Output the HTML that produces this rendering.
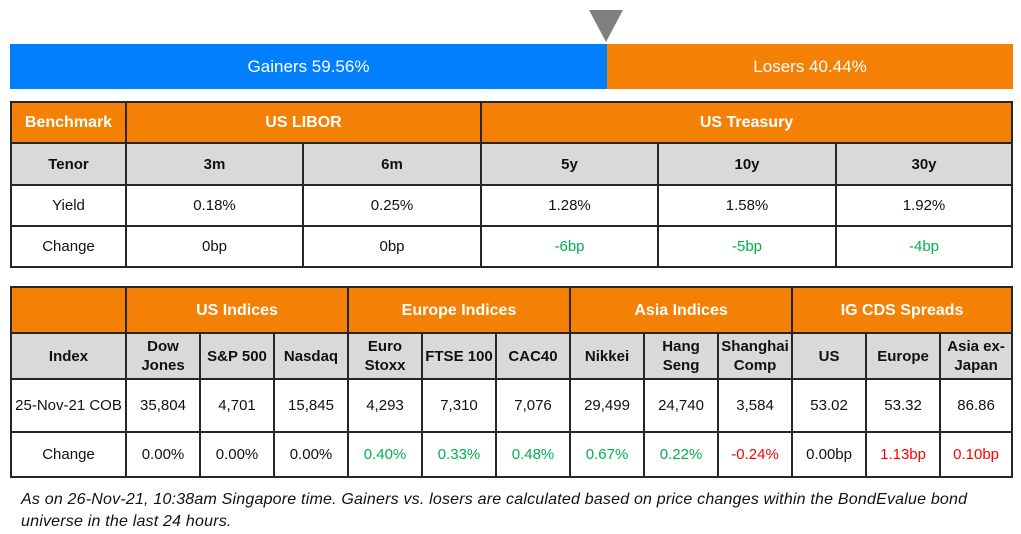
<!DOCTYPE html>
<html><head><meta charset="utf-8"><style>
body{margin:0;width:1021px;height:534px;background:#fff;position:relative;font-family:"Liberation Sans",sans-serif;overflow:hidden}
.abs{position:absolute}
table{position:absolute;border-collapse:collapse;table-layout:fixed}
td{border:2px solid #262626;text-align:center;padding:0;font-size:15px;color:#111;line-height:19px}
.o{background:#F58006;color:#fff;font-weight:bold;font-size:16px}
.g{background:#D9D9D9;font-weight:bold}
.gr{color:#00B050}.rd{color:#FF0000}
</style></head><body>
<div class="abs" style="left:589px;top:10px;width:0;height:0;border-left:17.5px solid transparent;border-right:17.5px solid transparent;border-top:32px solid #808080"></div>
<div class="abs" style="left:10px;top:44px;width:597px;height:45px;background:#0080FF;color:#fff;font-size:17px;line-height:45px;text-align:center">Gainers 59.56%</div>
<div class="abs" style="left:607px;top:44px;width:406px;height:45px;background:#F58006;color:#fff;font-size:17px;line-height:45px;text-align:center">Losers 40.44%</div>

<table style="left:10px;top:101px;width:1001px">
<colgroup><col style="width:115px"><col style="width:177px"><col style="width:178px"><col style="width:177px"><col style="width:178px"><col style="width:176px"></colgroup>
<tr style="height:41px"><td class="o">Benchmark</td><td class="o" colspan="2">US LIBOR</td><td class="o" colspan="3">US Treasury</td></tr>
<tr style="height:42px"><td class="g">Tenor</td><td class="g">3m</td><td class="g">6m</td><td class="g">5y</td><td class="g">10y</td><td class="g">30y</td></tr>
<tr style="height:41px"><td>Yield</td><td>0.18%</td><td>0.25%</td><td>1.28%</td><td>1.58%</td><td>1.92%</td></tr>
<tr style="height:41px"><td>Change</td><td>0bp</td><td>0bp</td><td class="gr">-6bp</td><td class="gr">-5bp</td><td class="gr">-4bp</td></tr>
</table>

<table style="left:10px;top:286px;width:1001px">
<colgroup><col style="width:115px"><col span="11" style="width:74px"><col style="width:72px"></colgroup>
<tr style="height:46px"><td class="o"></td><td class="o" colspan="3">US Indices</td><td class="o" colspan="3">Europe Indices</td><td class="o" colspan="3">Asia Indices</td><td class="o" colspan="3">IG CDS Spreads</td></tr>
<tr style="height:46px"><td class="g">Index</td><td class="g">Dow<br>Jones</td><td class="g">S&amp;P 500</td><td class="g">Nasdaq</td><td class="g">Euro<br>Stoxx</td><td class="g">FTSE 100</td><td class="g">CAC40</td><td class="g">Nikkei</td><td class="g">Hang<br>Seng</td><td class="g">Shanghai<br>Comp</td><td class="g">US</td><td class="g">Europe</td><td class="g">Asia ex-<br>Japan</td></tr>
<tr style="height:53px"><td>25-Nov-21 COB</td><td>35,804</td><td>4,701</td><td>15,845</td><td>4,293</td><td>7,310</td><td>7,076</td><td>29,499</td><td>24,740</td><td>3,584</td><td>53.02</td><td>53.32</td><td>86.86</td></tr>
<tr style="height:45px"><td>Change</td><td>0.00%</td><td>0.00%</td><td>0.00%</td><td class="gr">0.40%</td><td class="gr">0.33%</td><td class="gr">0.48%</td><td class="gr">0.67%</td><td class="gr">0.22%</td><td class="rd">-0.24%</td><td>0.00bp</td><td class="rd">1.13bp</td><td class="rd">0.10bp</td></tr>
</table>

<div class="abs" style="left:21px;top:489px;width:1000px;font-style:italic;font-size:16px;letter-spacing:0.2px;line-height:22px;color:#111;white-space:nowrap">As on 26-Nov-21, 10:38am Singapore time. Gainers vs. losers are calculated based on price changes within the BondEvalue bond<br>universe in the last 24 hours.</div>
</body></html>
